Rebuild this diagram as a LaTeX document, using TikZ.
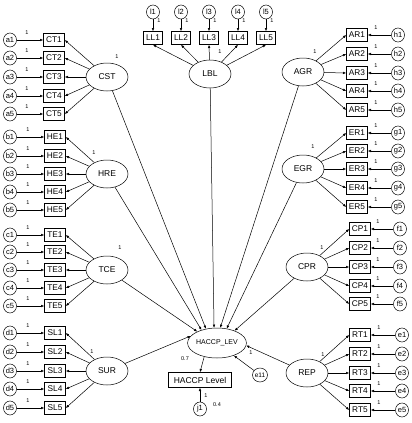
\documentclass[tikz,border=0pt]{standalone}
\usepackage{fontspec}
\setmainfont{Liberation Sans}
\usetikzlibrary{arrows.meta,shapes.geometric}
\begin{document}
\begin{tikzpicture}[x=1pt,y=-1pt,
  font=\fontsize{8.3}{9}\selectfont,
  box/.style={draw,line width=0.6pt,minimum width=21pt,minimum height=13pt,inner sep=0pt},
  err/.style={draw,ellipse,line width=0.5pt,minimum width=13pt,minimum height=14pt,inner sep=0pt,font=\fontsize{7.5}{7.5}\selectfont},
  lat/.style={draw,ellipse,line width=0.5pt,minimum width=42pt,minimum height=28pt,inner sep=0pt,font=\fontsize{8.5}{8.5}\selectfont},
  arr/.style={-{Latex[length=3.2pt,width=2.6pt]},line width=0.5pt},
  one/.style={font=\fontsize{5.5}{5.5}\selectfont,inner sep=0pt}
]
\useasboundingbox[fill=white] (0,0) rectangle (412,423);

% ---------- left groups ----------
\foreach \i/\yy in {1/40,2/58,3/77,4/96,5/114} {
  \node[err] (a\i) at (10,\yy) {a\i};
  \node[box] (CT\i) at (54,\yy) {CT\i};
  \draw[arr] (a\i) -- (CT\i);
  \node[one] at (27,\yy-7) {1};
}
\node[lat] (CST) at (107,77) {CST};
\foreach \i in {1,...,5} \draw[arr] (CST) -- (CT\i.east);
\node[one] at (117,57) {1};

\foreach \i/\yy in {1/137,2/156,3/174,4/192,5/210} {
  \node[err] (b\i) at (10,\yy) {b\i};
  \node[box] (HE\i) at (55,\yy) {HE\i};
  \draw[arr] (b\i) -- (HE\i);
  \node[one] at (28,\yy-7) {1};
}
\node[lat] (HRE) at (107,174) {HRE};
\foreach \i in {1,...,5} \draw[arr] (HRE) -- (HE\i.east);
\node[one] at (94,153) {1};

\foreach \i/\yy in {1/235,2/252,3/270,4/288,5/306} {
  \node[err] (c\i) at (10,\yy) {c\i};
  \node[box] (TE\i) at (55,\yy) {TE\i};
  \draw[arr] (c\i) -- (TE\i);
  \node[one] at (28,\yy-7) {1};
}
\node[lat] (TCE) at (107,270) {TCE};
\foreach \i in {1,...,5} \draw[arr] (TCE) -- (TE\i.east);
\node[one] at (120,248) {1};

\foreach \i/\yy in {1/333,2/352,3/371,4/389,5/408} {
  \node[err] (d\i) at (10,\yy) {d\i};
  \node[box] (SL\i) at (55,\yy) {SL\i};
  \draw[arr] (d\i) -- (SL\i);
  \node[one] at (28,\yy-7) {1};
}
\node[lat] (SUR) at (107,371) {SUR};
\foreach \i in {1,...,5} \draw[arr] (SUR) -- (SL\i.east);
\node[one] at (92,352) {1};

% ---------- top group ----------
\foreach \i/\xx in {1/153,2/181,3/209,4/238,5/266} {
  \node[err] (l\i) at (\xx,12) {l\i};
  \node[box,minimum width=19pt] (LL\i) at (\xx,38) {LL\i};
  \draw[arr] (l\i) -- (LL\i);
  \node[one] at (\xx+6,21) {1};
}
\node[lat] (LBL) at (210,74) {LBL};
\foreach \i in {1,...,5} \draw[arr] (LBL) -- (LL\i.south);
\node[one] at (220,52) {1};

% ---------- right groups ----------
\foreach \i/\yy in {1/35,2/54,3/73,4/91,5/110} {
  \node[err] (h\i) at (398,\yy) {h\i};
  \node[box] (AR\i) at (357,\yy) {AR\i};
  \draw[arr] (h\i) -- (AR\i);
  \node[one] at (376,\yy-7) {1};
}
\node[lat] (AGR) at (303,72) {AGR};
\foreach \i in {1,...,5} \draw[arr] (AGR) -- (AR\i.west);
\node[one] at (315,52) {1};

\foreach \i/\yy in {1/133,2/151,3/169,4/188,5/207} {
  \node[err] (g\i) at (398,\yy) {g\i};
  \node[box] (ER\i) at (357,\yy) {ER\i};
  \draw[arr] (g\i) -- (ER\i);
  \node[one] at (376,\yy-7) {1};
}
\node[lat] (EGR) at (303,169) {EGR};
\foreach \i in {1,...,5} \draw[arr] (EGR) -- (ER\i.west);
\node[one] at (313,147) {1};

\foreach \i/\yy in {1/229,2/248,3/267,4/286,5/304} {
  \node[err] (f\i) at (400,\yy) {f\i};
  \node[box] (CP\i) at (360,\yy) {CP\i};
  \draw[arr] (f\i) -- (CP\i);
  \node[one] at (378,\yy-7) {1};
}
\node[lat] (CPR) at (307,267) {CPR};
\foreach \i in {1,...,5} \draw[arr] (CPR) -- (CP\i.west);
\node[one] at (322,248) {1};

\foreach \i/\yy in {1/335,2/354,3/373,4/391,5/410} {
  \node[err] (e\i) at (402,\yy) {e\i};
  \node[box] (RT\i) at (360,\yy) {RT\i};
  \draw[arr] (e\i) -- (RT\i);
  \node[one] at (379,\yy-7) {1};
}
\node[lat] (REP) at (307,373) {REP};
\foreach \i in {1,...,5} \draw[arr] (REP) -- (RT\i.west);
\node[one] at (323,355) {1};

% ---------- centre ----------
\node[draw,ellipse,line width=0.5pt,minimum width=50pt,minimum height=30pt,inner sep=0pt,font=\fontsize{7}{7}\selectfont] (HLEV) at (217,343) {HACCP\_LEV};
\node[box,minimum width=63pt,minimum height=15pt,font=\fontsize{8.5}{8.5}\selectfont] (HL) at (200,380) {HACCP Level};
\node[err] (j1) at (200,409) {j1};
\node[err,minimum width=15pt,font=\fontsize{6.5}{6.5}\selectfont] (e11) at (260,375) {e11};

\draw[arr] (TCE) -- (HLEV.150);
\draw[arr] (HRE) -- (HLEV.140);
\draw[arr] (CST) -- (HLEV.128);
\draw[arr] (LBL) -- (HLEV.101);
\draw[arr] (AGR) -- (HLEV.78);
\draw[arr] (EGR) -- (HLEV.56);
\draw[arr] (CPR) -- (HLEV.35);
\draw[arr] (SUR) -- (HLEV.165);
\draw[arr] (REP) -- (HLEV.-5);
\draw[arr] (e11) -- (HLEV);
\draw[arr] (HLEV.227) -- (HL.north);
\draw[arr] (j1) -- (HL);

\node[one] at (185,359) {0.7};
\node[one] at (217,405) {0.4};
\node[one] at (206,396) {1};
\node[one] at (251,353) {1};
\end{tikzpicture}
\end{document}
